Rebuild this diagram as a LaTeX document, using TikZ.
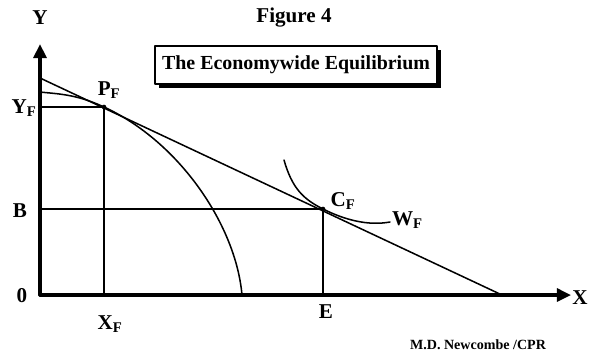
\documentclass[tikz,border=0pt]{standalone}
\usepackage{fontspec}
\setmainfont{Liberation Serif}
\usetikzlibrary{arrows.meta,shadows}
\begin{document}
\begin{tikzpicture}[x=0.03cm, y=-0.03cm, font=\fontsize{18}{20}\selectfont\bfseries, line join=round, line cap=round]
			\useasboundingbox (0,0) rectangle (589,352);
			% Tọa độ các điểm
			\coordinate (O) at (40,295);
			\coordinate (Ytop) at (40,44);
			\coordinate (Xend) at (571,295);
			\coordinate (L0) at (40,78);
			\coordinate (L1) at (502,295);
			\coordinate (PF) at (104,107);
			\coordinate (CF) at (323,209);
			\coordinate (YF) at (40,107);
			\coordinate (XF) at (104,295);
			\coordinate (B) at (40,209);
			\coordinate (E) at (323,295);
			\coordinate (Q0) at (40,92);
			\coordinate (Q1) at (242,295);
			\coordinate (W0) at (284,160);
			\coordinate (W1) at (390,222);
			
			% Tiêu đề
			\node (fig) at (294,18) {Figure 4};
			\node[draw, line width=1.2pt, fill=white, minimum width=282*0.03cm, minimum height=38*0.03cm,
				font=\fontsize{17}{19}\selectfont\bfseries,
				drop shadow={fill=black, opacity=1, shadow xshift=3pt, shadow yshift=-3pt}] (title) at (296,65) {The Economywide Equilibrium};
			
			% Trục tọa độ
			\draw[line width=2.6pt, -{Triangle[length=12pt,width=11pt]}] (O)--(Ytop);
			\draw[line width=2.6pt, -{Triangle[length=12pt,width=11pt]}] (O)--(Xend);
			
			% Các đường
			\draw[line width=1.3pt] (L0)--(L1);
			\draw[line width=1.3pt] (YF)--(PF)--(XF);
			\draw[line width=1.3pt] (B)--(CF)--(E);
			\draw[line width=1.3pt] (Q0) .. controls (58,94) and (76,94) .. (PF)
				.. controls (180,142) and (236,226) .. (Q1);
			\draw[line width=1.3pt] (W0) .. controls (292,188) and (303,199) .. (CF)
				.. controls (345,220) and (368,226) .. (W1);
			
			% Nhãn
			\node at (40,18) {Y};
			\node at (580,298) {X};
			\node at (22,296) {0};
			\node at (20,211) {B};
			\node at (24,108) {Y\textsubscript{F}};
			\node at (110,324) {X\textsubscript{F}};
			\node at (326,312) {E};
			\node at (109,90) {P\textsubscript{F}};
			\node at (343,201) {C\textsubscript{F}};
			\node[anchor=west] at (388,220) {W\textsubscript{F}};
			\node[font=\fontsize{12}{14}\selectfont\bfseries] at (478,345) {M.D. Newcombe /CPR};
			
			% Các điểm
			\foreach \point in {PF, CF} {
				\fill (\point) circle (2pt);
			}
		\end{tikzpicture}
\end{document}
